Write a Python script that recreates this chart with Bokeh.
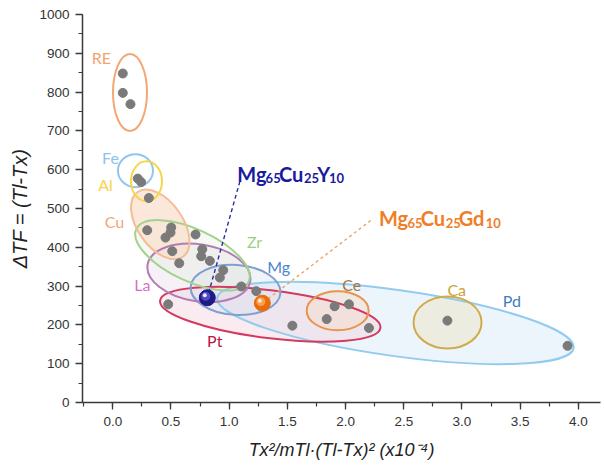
import math
from bokeh.plotting import figure
from bokeh.models import Label, SingleIntervalTicker, PrintfTickFormatter
from bokeh.embed import file_html
from bokeh.resources import INLINE

# ---------------- data ----------------
# metallic glass alloys: x = Tx^2/mTl(Tl-Tx)^2 (x1e-4), y = Tl - Tx
alloy_x = [0.086, 0.086, 0.152,
           0.215, 0.244, 0.310,
           0.296, 0.502, 0.496, 0.453, 0.711, 0.511, 0.769, 0.760, 0.834,
           0.571, 0.949, 0.920, 1.104, 1.233, 0.476, 1.543,
           1.906, 2.029, 1.838, 2.201,
           2.875, 3.907]
alloy_y = [848, 798, 769,
           577, 568, 527,
           444, 451, 438, 425, 433, 390, 395, 377, 365,
           359, 341, 322, 299, 287, 253, 198,
           248, 253, 215, 192,
           211, 146]

# alloy families (group ellipses), centre in data units
group_names = ["Pd", "Pt", "Ce", "Ca", "Mg", "La", "Zr", "Cu", "Fe", "Al", "RE"]
group_cx = [2.428, 1.353, 1.932, 2.876, 1.055, 0.740, 0.685, 0.408, 0.195, 0.290, 0.148]
group_cy = [205, 227.5, 236.5, 206.3, 290.2, 334, 379.2, 459, 597.6, 570, 798.8]
# family name positions
name_x = [3.428, 0.876, 2.052, 2.955, 1.425, 0.255, 1.218, 0.015, -0.020, -0.063, -0.097]
name_y = [263, 160, 304, 291, 351, 304, 415, 467, 632, 562, 890]

# highlighted alloys
mgcuy_x, mgcuy_y = 0.812, 270
mgcugd_x, mgcugd_y = 1.285, 256
mgcuy_label = (1.070, 590)
mgcugd_label = (2.287, 474.6)
mgcuy_leader = (1.092, 570)
mgcugd_leader = (2.216, 469)

x_ticks_interval = 0.5
y_ticks_interval = 100
x_title_text = "Tx²/mTl·(Tl-Tx)² (x10⁻⁴)"
y_title_text = "ΔTF = (Tl-Tx)"

# ---------------- style ----------------
grp_style = {
    # name: (w px, h px, angle deg, line colour, fill colour, fill alpha, label colour)
    "Pd": (360, 66, -8, "#93CBEE", "#E6F2FB", 0.75, "#3F7CC2"),
    "Pt": (222, 48, -7, "#D4395F", "#F3D3DE", 0.45, "#B8153F"),
    "Ce": (62, 39, 0, "#E8944C", "#F6D9C6", 0.45, "#A87544"),
    "Ca": (68, 52, 0, "#D2AA4E", "#ECEBDA", 0.85, "#C9A234"),
    "Mg": (90, 50, -4, "#7F9FCE", "#D9E0EE", 0.40, "#4C86CF"),
    "La": (104, 57, -9, "#B27DB6", "#E6DCE8", 0.40, "#D86FCB"),
    "Zr": (124, 52, -25, "#A2D28C", "#E6EEDD", 0.35, "#9CCF86"),
    "Cu": (79, 45, -55, "#F4BC97", "#F9DCC6", 0.65, "#F0A77A"),
    "Fe": (35, 33, 0, "#93C5EC", None, 0, "#8DC2EA"),
    "Al": (31, 40, 0, "#F8D64A", None, 0, "#F6D449"),
    "RE": (34, 77, 0, "#F4A774", None, 0, "#F3A571"),
}

W_FIG, H_FIG = 604, 469
LEFT, RIGHT, TOP, BOTTOM = 82, 4, 14, 67
FW, FH = W_FIG - LEFT - RIGHT, H_FIG - TOP - BOTTOM
X_MIN, X_MAX = -0.26, 4.19
Y_MIN, Y_MAX = 0, 1000
XS = FW / (X_MAX - X_MIN)
YS = FH / (Y_MAX - Y_MIN)

p = figure(width=W_FIG, height=H_FIG, x_range=(X_MIN, X_MAX), y_range=(Y_MIN, Y_MAX),
           output_backend="svg", toolbar_location=None,
           min_border_left=LEFT, min_border_right=RIGHT, min_border_top=TOP,
           min_border_bottom=BOTTOM)
p.frame_width = FW
p.frame_height = FH
p.outline_line_color = None
p.xgrid.visible = False
p.ygrid.visible = False
p.background_fill_color = "white"
p.border_fill_color = "white"

for ax in (p.xaxis[0], p.yaxis[0]):
    ax.axis_line_color = "#3a3a3a"
    ax.axis_line_width = 1.5
    ax.major_tick_line_color = "#3a3a3a"
    ax.minor_tick_line_color = "#3a3a3a"
    ax.major_tick_line_width = 1.3
    ax.minor_tick_line_width = 1.2
    ax.major_tick_in = 0
    ax.major_tick_out = 7
    ax.minor_tick_in = 0
    ax.minor_tick_out = 4
    ax.major_label_text_font = "Liberation Sans"
    ax.major_label_text_font_size = "13.5px"
    ax.major_label_text_color = "#333333"
    ax.axis_label_text_font = "Liberation Sans"
    ax.axis_label_text_font_style = "italic"
    ax.axis_label_text_color = "#222222"

p.xaxis.ticker = SingleIntervalTicker(interval=x_ticks_interval, num_minor_ticks=2)
p.xaxis.formatter = PrintfTickFormatter(format="%.1f")
p.xaxis.major_label_standoff = 7
p.xaxis.axis_label = x_title_text
p.xaxis.axis_label_text_font_size = "18px"
p.xaxis.axis_label_standoff = 11

p.yaxis.ticker = SingleIntervalTicker(interval=y_ticks_interval, num_minor_ticks=2)
p.yaxis.major_label_standoff = 6
p.yaxis.axis_label = y_title_text
p.yaxis.axis_label_text_font_size = "20px"
p.yaxis.axis_label_standoff = 5

# ellipses: fills first, then outlines
for i, g in enumerate(group_names):
    w, h, ang, lc, fc, fa, tc = grp_style[g]
    p.ellipse(x=[group_cx[i]], y=[group_cy[i]], width=w, height=h, angle=ang,
              width_units="screen", height_units="screen", angle_units="deg",
              fill_color=fc if fc else None, fill_alpha=fa, line_color=None)
for i, g in enumerate(group_names):
    w, h, ang, lc, fc, fa, tc = grp_style[g]
    p.ellipse(x=[group_cx[i]], y=[group_cy[i]], width=w, height=h, angle=ang,
              width_units="screen", height_units="screen", angle_units="deg",
              fill_color=None, line_color=lc, line_width=2)

# family names
for i, g in enumerate(group_names):
    tc = grp_style[g][6]
    p.add_layout(Label(x=name_x[i], y=name_y[i], text=g, text_color=tc,
                       text_font="Lato", text_font_size="16px",
                       text_align="center", text_baseline="middle"))

# leader lines
p.line([mgcuy_leader[0], mgcuy_x], [mgcuy_leader[1], mgcuy_y],
       line_color="#2B2BA6", line_width=1.4, line_dash="4 3")
p.line([mgcugd_leader[0], mgcugd_x], [mgcugd_leader[1], mgcugd_y],
       line_color="#F2A062", line_width=1.4, line_dash="3 3")

# data points
p.scatter(alloy_x, alloy_y, size=9, marker="circle", fill_color="#7A7A7A",
          line_color="#7A7A7A")

# shiny spheres for highlighted alloys
for (sx, sy, c1, c2, c3) in [(mgcuy_x, mgcuy_y, "#1E1A86", "#4F4BC4", "#E6E6FF"),
                             (mgcugd_x, mgcugd_y, "#E96C0C", "#F8A050", "#FFE8D0")]:
    p.scatter([sx], [sy], size=16, fill_color=c1, line_color=c1)
    p.scatter([sx - 1.5 / XS], [sy + 1.5 / YS], size=9, fill_color=c2, line_color=None)
    p.scatter([sx - 2.5 / XS], [sy + 2.5 / YS], size=4, fill_color=c3, line_color=None)


# ---------- composite (subscript) texts ----------
def rich(pieces, ax, ay, color, font, bold=True):
    for txt, dx, dy, size in pieces:
        p.add_layout(Label(x=ax + dx / XS, y=ay - dy / YS, text=txt, text_color=color,
                           text_font=font, text_font_size=f"{size}px",
                           text_font_style="bold" if bold else "normal",
                           text_align="left", text_baseline="alphabetic"))


rich([("Mg", 0, 0, 20), ("65", 28.3, 4.5, 13), ("Cu", 41.6, 0, 20),
      ("25", 66.6, 4.5, 13), ("Y", 80.0, 0, 20), ("10", 91.6, 4.5, 13)],
     mgcuy_label[0], mgcuy_label[1], "#1A1A9E", "Lato")
rich([("Mg", 0, 0, 20), ("65", 28.4, 4.5, 13), ("Cu", 41.7, 0, 20),
      ("25", 66.7, 4.5, 13), ("Gd", 79.7, 0, 20), ("10", 106.7, 4.5, 13)],
     mgcugd_label[0], mgcugd_label[1], "#F07E26", "Lato")

open("out.html", "w").write(file_html(p, INLINE))
